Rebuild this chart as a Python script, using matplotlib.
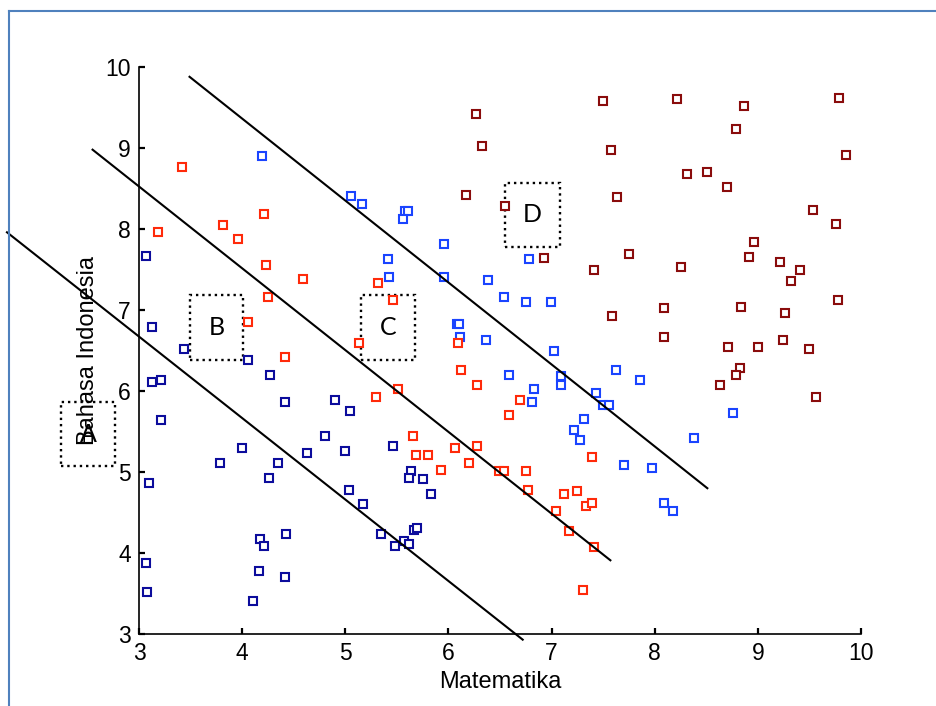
import matplotlib
matplotlib.use("Agg")
import matplotlib.pyplot as plt
from matplotlib.patches import Rectangle
from matplotlib.lines import Line2D

plt.rcParams['font.family'] = ['Liberation Sans Narrow', 'Liberation Sans', 'DejaVu Sans']

# kelompok D (merah tua)
d_x = [6.27, 6.33, 7.50, 7.58, 7.63, 6.17, 6.55, 6.93, 8.22, 8.87, 9.79, 8.79, 9.85,
       8.31, 8.51, 8.70, 9.53, 9.76, 8.96, 7.75, 8.91, 9.21, 9.41, 9.32, 8.25, 9.78,
       7.59, 8.09, 8.84, 9.26, 8.09, 8.71, 9.00, 9.24, 9.50, 8.83, 8.79, 8.63, 9.56, 7.41]
d_y = [9.42, 9.03, 9.58, 8.97, 8.39, 8.42, 8.29, 7.64, 9.60, 9.52, 9.62, 9.23, 8.92,
       8.68, 8.70, 8.52, 8.23, 8.06, 7.84, 7.69, 7.66, 7.59, 7.49, 7.36, 7.53, 7.12,
       6.93, 7.02, 7.04, 6.96, 6.67, 6.54, 6.54, 6.63, 6.52, 6.28, 6.20, 6.07, 5.93, 7.49]

# kelompok C (biru)
c_x = [4.19, 5.06, 5.16, 5.58, 5.61, 5.56, 5.96, 5.41, 6.78, 5.42, 5.96, 6.38, 6.54,
       6.75, 6.99, 6.08, 6.10, 6.11, 6.36, 7.02, 7.62, 7.86, 6.59, 7.09, 7.09, 6.83,
       6.81, 7.43, 7.50, 7.56, 7.31, 7.22, 7.28, 8.76, 8.38, 7.70, 7.97, 8.09, 8.18]
c_y = [8.90, 8.41, 8.31, 8.22, 8.22, 8.12, 7.82, 7.63, 7.63, 7.41, 7.41, 7.37, 7.16,
       7.10, 7.10, 6.83, 6.83, 6.67, 6.63, 6.49, 6.26, 6.14, 6.20, 6.18, 6.07, 6.03,
       5.87, 5.97, 5.83, 5.83, 5.66, 5.52, 5.40, 5.73, 5.42, 5.09, 5.05, 4.62, 4.52]

# kelompok B (merah)
b_x = [3.42, 4.21, 3.81, 3.18, 3.96, 4.23, 4.59, 4.25, 5.32, 5.46, 4.06, 5.13, 4.42,
       6.09, 6.12, 6.28, 5.51, 5.30, 6.69, 6.59, 5.66, 6.28, 6.06, 5.69, 5.80, 7.39,
       5.93, 6.20, 6.49, 6.54, 6.75, 6.77, 7.12, 7.25, 7.33, 7.39, 7.04, 7.17, 7.41, 7.30]
b_y = [8.76, 8.19, 8.05, 7.96, 7.88, 7.55, 7.38, 7.16, 7.33, 7.12, 6.85, 6.59, 6.42,
       6.59, 6.26, 6.07, 6.03, 5.93, 5.89, 5.70, 5.44, 5.32, 5.30, 5.21, 5.21, 5.19,
       5.03, 5.11, 5.01, 5.01, 5.01, 4.78, 4.73, 4.77, 4.58, 4.62, 4.52, 4.27, 4.07, 3.54]

# kelompok A (biru tua)
a_x = [3.07, 3.13, 3.44, 4.06, 4.27, 3.13, 3.21, 4.42, 4.90, 5.05, 3.21, 4.80, 4.00,
       5.46, 3.79, 4.35, 4.26, 4.63, 5.00, 3.10, 5.04, 5.17, 5.35, 4.17, 4.21, 4.43,
       3.07, 4.16, 4.42, 3.08, 4.11, 5.64, 5.62, 5.75, 5.83, 5.67, 5.70, 5.57, 5.48, 5.62]
a_y = [7.67, 6.79, 6.52, 6.38, 6.20, 6.11, 6.14, 5.87, 5.89, 5.75, 5.64, 5.45, 5.30,
       5.32, 5.11, 5.11, 4.93, 5.24, 5.26, 4.86, 4.78, 4.60, 4.23, 4.17, 4.09, 4.23,
       3.88, 3.78, 3.70, 3.52, 3.41, 5.01, 4.93, 4.91, 4.73, 4.29, 4.31, 4.15, 4.09, 4.11]

# garis pemisah (x awal, y awal, x akhir, y akhir)
batas = [(1.72, 7.96, 6.72, 2.93),
         (2.55, 8.98, 7.57, 3.91),
         (3.49, 9.88, 8.51, 4.80)]

# kotak label (x kiri, y bawah, lebar, tinggi)
kotak = {'A': (2.24, 5.07, 0.53, 0.79),
         'B': (3.49, 6.38, 0.52, 0.80),
         'C': (5.15, 6.38, 0.53, 0.80),
         'D': (6.55, 7.78, 0.53, 0.79)}

fig = plt.figure(figsize=(9.36, 7.06), dpi=100)
ax = fig.add_axes([0.1485, 0.102, 0.7714, 0.803])

warna = ['#8a0c0c', '#1a44ff', '#ff2a0a', '#0c0c9c']
for xs, ys, c in zip([d_x, c_x, b_x, a_x], [d_y, c_y, b_y, a_y], warna):
    ax.plot(xs, ys, 's', ms=5.8, mfc='white', mec=c, mew=1.5, linestyle='none')

for x0, y0, x1, y1 in batas:
    ax.plot([x0, x1], [y0, y1], color='black', lw=1.5, clip_on=False)

for nama, (x, y, w, h) in kotak.items():
    ax.add_patch(Rectangle((x, y), w, h, fill=False, ls=':', lw=1.7,
                           ec='black', clip_on=False))
    ax.text(x + w / 2, y + h / 2, nama, ha='center', va='center',
            fontsize=18, family=['Lato', 'DejaVu Sans'])

ax.set_xlim(3, 10)
ax.set_ylim(3, 10)
ax.set_xticks(range(3, 11))
ax.set_yticks(range(3, 11))
ax.spines['top'].set_visible(False)
ax.spines['right'].set_visible(False)
ax.spines['left'].set_linewidth(1.2)
ax.spines['bottom'].set_linewidth(1.2)
ax.tick_params(direction='in', length=4, width=1.6, labelsize=16.5, pad=6)

ax.set_xlabel('Matematika', fontsize=17)
ax.set_ylabel('Bahasa Indonesia', fontsize=17, va='center')
ax.yaxis.set_label_coords(-0.0706, 0.5)

# bingkai biru dokumen
fig.add_artist(Line2D([0.0101, 0.0101], [0.0, 0.9844], color='#4f81bd', lw=1.5))
fig.add_artist(Line2D([0.0101, 1.0], [0.9844, 0.9844], color='#4f81bd', lw=1.5))

fig.savefig('out.png', dpi=100)
